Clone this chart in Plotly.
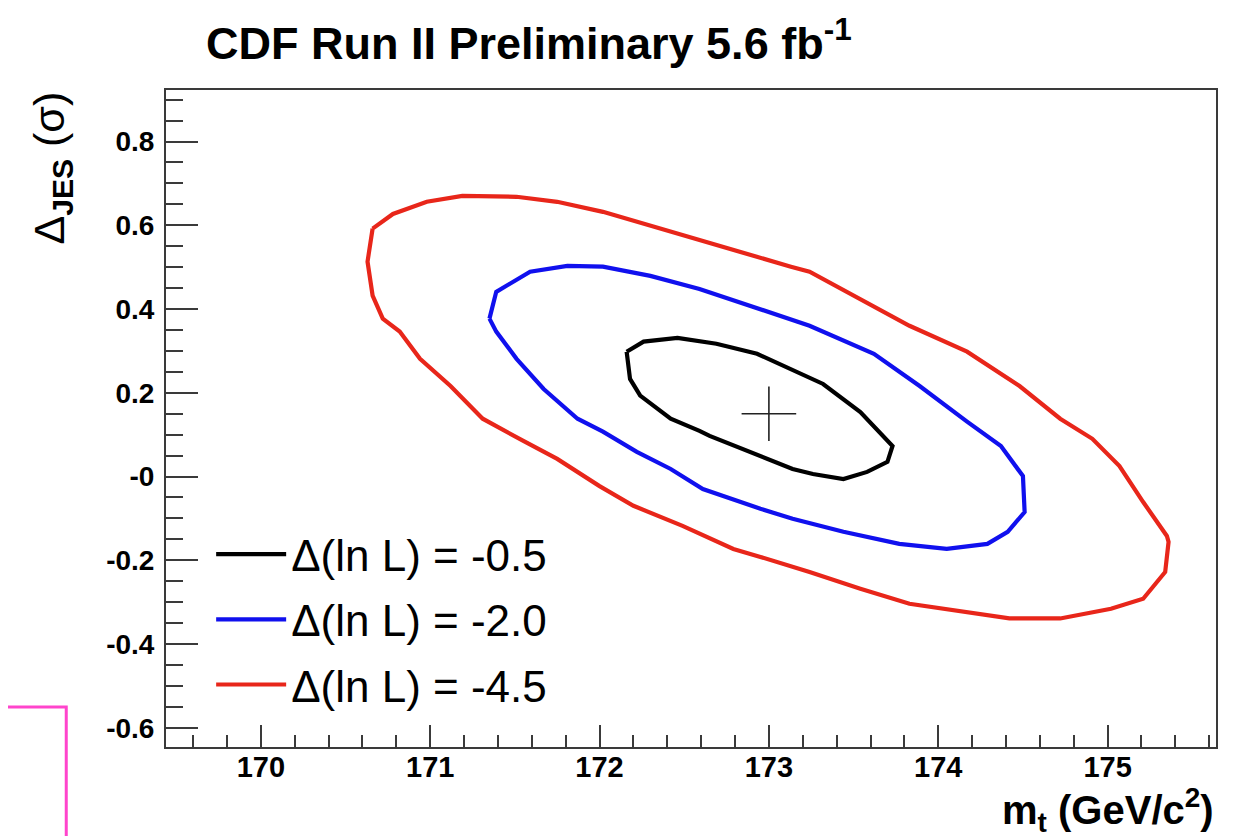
import plotly.graph_objects as go

# ---- data ----
black_x = [172.16, 172.26, 172.46, 172.69, 172.93, 173.13, 173.32, 173.54, 173.73, 173.70, 173.58,
           173.44, 173.26, 173.14, 172.95, 172.79, 172.65, 172.59, 172.42, 172.24, 172.18, 172.16]
black_y = [0.298, 0.322, 0.331, 0.317, 0.293, 0.257, 0.221, 0.154, 0.073, 0.035, 0.011,
           -0.006, 0.006, 0.018, 0.049, 0.073, 0.097, 0.109, 0.138, 0.193, 0.233, 0.298]

blue_x = [171.35, 171.39, 171.59, 171.81, 172.02, 172.30, 172.59, 172.89, 173.24, 173.62, 173.89,
          174.17, 174.37, 174.50, 174.51, 174.41, 174.29, 174.05, 173.77, 173.44, 173.14, 172.95,
          172.61, 172.42, 172.22, 172.02, 171.87, 171.67, 171.51, 171.39, 171.35]
blue_y = [0.377, 0.441, 0.489, 0.503, 0.501, 0.479, 0.448, 0.408, 0.360, 0.293, 0.216,
          0.131, 0.073, 0.001, -0.085, -0.132, -0.161, -0.173, -0.161, -0.132, -0.101, -0.077,
          -0.030, 0.018, 0.059, 0.107, 0.138, 0.209, 0.281, 0.346, 0.377]

red_x = [170.66, 170.78, 170.98, 171.19, 171.51, 171.75, 172.02, 172.30, 172.59, 172.89,
         173.13, 173.24, 173.54, 173.83, 174.17, 174.48, 174.72, 174.91, 175.07, 175.21,
         175.35, 175.36, 175.34, 175.21, 175.02, 174.72, 174.42, 174.13, 173.83, 173.54,
         173.24, 172.95, 172.79, 172.49, 172.20, 172.00, 171.75, 171.55, 171.31, 171.12,
         170.94, 170.82, 170.72, 170.66, 170.63, 170.66]
red_y = [0.592, 0.627, 0.656, 0.670, 0.668, 0.656, 0.632, 0.599, 0.563, 0.527,
         0.501, 0.489, 0.424, 0.360, 0.298, 0.216, 0.138, 0.090, 0.025, -0.061,
         -0.142, -0.156, -0.228, -0.292, -0.316, -0.339, -0.339, -0.323, -0.304, -0.268,
         -0.228, -0.192, -0.173, -0.118, -0.070, -0.023, 0.042, 0.085, 0.138, 0.216,
         0.281, 0.346, 0.377, 0.432, 0.513, 0.592]

best_x = [173.0]
best_y = [0.15]

legend_labels = ["Δ(ln L) = -0.5", "Δ(ln L) = -2.0", "Δ(ln L) = -4.5"]

x_tickvals = [170, 171, 172, 173, 174, 175]
x_ticktext = ["170", "171", "172", "173", "174", "175"]
y_tickvals = [-0.6, -0.4, -0.2, 0.0, 0.2, 0.4, 0.6, 0.8]
y_ticktext = ["-0.6", "-0.4", "-0.2", "-0", "0.2", "0.4", "0.6", "0.8"]

FONT = "Liberation Sans, Arial, Helvetica, sans-serif"
FRAME = "#3a3a3a"

fig = go.Figure()

for xs, ys, col, name, grp in [
    (black_x, black_y, "#000000", legend_labels[0], "a"),
    (blue_x, blue_y, "#1010ee", legend_labels[1], "b"),
    (red_x, red_y, "#e8261a", legend_labels[2], "c"),
]:
    fig.add_trace(go.Scatter(x=xs, y=ys, mode="lines", name=name, legendgroup=grp,
                             line=dict(color=col, width=4.2), hoverinfo="skip"))

fig.add_trace(go.Scatter(x=best_x, y=best_y, mode="markers", showlegend=False,
                         marker=dict(symbol="cross-thin", size=39,
                                     line=dict(color="#222222", width=1.6))))

fig.update_layout(
    width=1238, height=836,
    margin=dict(l=158, r=30, t=82, b=97),
    paper_bgcolor="white", plot_bgcolor="white",
    font=dict(family=FONT, color="black"),
    title=dict(text="<b>CDF Run II Preliminary 5.6 fb<sup>-1</sup></b>",
               font=dict(size=45, family=FONT, color="black"),
               x=198 / 1238, xanchor="left", xref="container",
               y=1 - 35 / 836, yanchor="middle", yref="container"),
    legend=dict(x=0.043, xanchor="left", y=0.347, yanchor="top",
                bgcolor="rgba(0,0,0,0)", font=dict(size=44, family=FONT),
                tracegroupgap=5, traceorder="grouped", itemwidth=70),
    showlegend=True,
)

fig.update_xaxes(
    range=[169.44, 175.64], showgrid=False, zeroline=False,
    showline=True, linecolor=FRAME, linewidth=2, mirror=True,
    ticks="inside", ticklen=22, tickwidth=1.5, tickcolor=FRAME,
    tickvals=x_tickvals, ticktext=x_ticktext, ticklabelstandoff=-7,
    tickfont=dict(size=29, family=FONT, color="black", weight="bold"),
    minor=dict(ticks="inside", ticklen=12, tickwidth=1.5, tickcolor=FRAME, dtick=0.2, tick0=170,
               showgrid=False),
)
fig.update_yaxes(
    range=[-0.646, 0.923], showgrid=False, zeroline=False,
    showline=True, linecolor=FRAME, linewidth=2, mirror=True,
    ticks="inside", ticklen=32, tickwidth=1.5, tickcolor=FRAME,
    tickvals=y_tickvals, ticktext=y_ticktext, ticklabelstandoff=4,
    tickfont=dict(size=28, family=FONT, color="black", weight="bold"),
    minor=dict(ticks="inside", ticklen=17, tickwidth=1.5, tickcolor=FRAME, dtick=0.05, tick0=0,
               showgrid=False),
)

# axis titles (ROOT style: aligned to the end of the axes)
fig.add_annotation(text="<b>m<sub>t</sub> (GeV/c<sup>2</sup>)</b>", xref="paper", yref="paper",
                   x=1.0, xanchor="right", y=-0.05, yanchor="top", showarrow=False,
                   font=dict(size=40, family=FONT, color="black"))
fig.add_annotation(text="Δ<b><sub>JES</sub></b> (σ)", textangle=-90, xref="paper", yref="paper",
                   x=-0.1095, xanchor="center", y=1.0, yanchor="top", showarrow=False,
                   font=dict(size=43, family=FONT, color="black"))

# slide artefact at bottom-left corner
fig.add_shape(type="rect", xref="paper", yref="paper",
              x0=-0.175, x1=-0.095, y0=-0.16, y1=0.061,
              line=dict(color="#ff44cc", width=3), fillcolor="rgba(0,0,0,0)", layer="above")

fig.write_html("out.html")
